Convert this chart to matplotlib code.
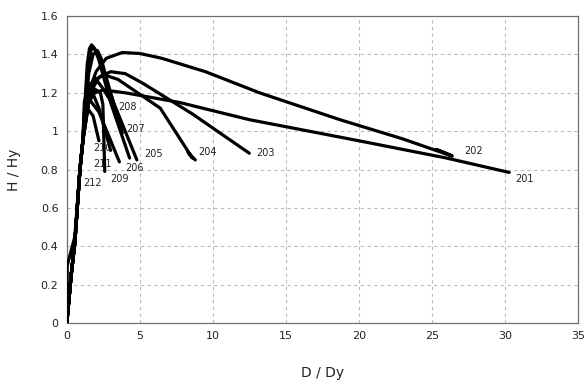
import numpy as np
import matplotlib
matplotlib.use("Agg")
import matplotlib.pyplot as plt

# ------ envelope curves (D/Dy, H/Hy) ---------------------------
rise = [(0, 0), (0.3, 0.25), (0.55, 0.42), (0.9, 0.8), (1.1, 0.95)]
rise0 = [(0, 0), (0.03, 0.3), (0.55, 0.45), (0.9, 0.8), (1.1, 0.95)]

curves = {
    "201": rise0 + [(1.5, 1.15), (1.9, 1.2), (2.5, 1.215), (4.0, 1.2), (7.7, 1.15),
                    (12.5, 1.06), (20.0, 0.95), (26.0, 0.86), (30.3, 0.785)],
    "202": rise + [(1.5, 1.2), (2.0, 1.31), (2.7, 1.38), (3.8, 1.41), (5.0, 1.405),
                   (6.5, 1.38), (9.5, 1.31), (13.2, 1.2), (18.7, 1.06), (23.0, 0.96),
                   (26.4, 0.87), (25.3, 0.905), (26.3, 0.875)],
    "203": rise + [(1.6, 1.2), (2.2, 1.28), (3.0, 1.31), (4.0, 1.3), (5.2, 1.25),
                   (8.6, 1.09), (12.5, 0.885)],
    "204": rise + [(1.6, 1.2), (2.0, 1.27), (2.5, 1.295), (3.5, 1.27), (6.4, 1.12),
                   (8.6, 0.86), (8.3, 0.89), (8.8, 0.85)],
    "205": rise + [(1.4, 1.3), (1.65, 1.42), (1.8, 1.44), (2.0, 1.42), (2.3, 1.36),
                   (3.2, 1.15), (4.8, 0.85)],
    "206": rise + [(1.4, 1.35), (1.55, 1.43), (1.7, 1.45), (1.9, 1.43), (2.2, 1.37),
                   (3.0, 1.15), (4.3, 0.86)],
    "207": rise + [(1.5, 1.3), (1.8, 1.4), (2.1, 1.42), (2.35, 1.38), (2.7, 1.28),
                   (3.8, 0.99)],
    "208": rise + [(1.5, 1.22), (1.9, 1.28), (2.5, 1.22), (3.3, 1.12)],
    "209": rise + [(1.4, 1.15), (1.9, 1.22), (2.3, 1.2), (2.47, 1.14), (2.6, 0.79)],
    "210": rise + [(1.2, 1.1), (1.5, 1.17), (2.2, 1.1), (3.6, 0.84)],
    "211": rise + [(1.2, 1.15), (1.5, 1.25), (2.2, 1.12), (3.0, 0.9)],
    "212": rise + [(1.3, 1.13), (1.8, 1.08), (2.2, 0.95)],
}

# label positions (left edge, centre) in data coords
label_pos = {
    "201": (30.7, 0.75), "202": (27.2, 0.895), "203": (13.0, 0.885),
    "204": (9.0, 0.89), "205": (5.3, 0.88), "206": (4.0, 0.81),
    "207": (4.1, 1.01), "208": (3.55, 1.125), "209": (3.0, 0.75),
    "210": (1.8, 0.91), "211": (1.8, 0.83), "212": (1.15, 0.73),
}

xticks = [0, 5, 10, 15, 20, 25, 30, 35]
yticks = [0, 0.2, 0.4, 0.6, 0.8, 1.0, 1.2, 1.4, 1.6]
yticklabels = ["0", "0.2", "0.4", "0.6", "0.8", "1", "1.2", "1.4", "1.6"]

fig = plt.figure(figsize=(5.86, 3.92), dpi=100)
ax = fig.add_axes([0.114, 0.176, 0.872, 0.783])

for name, pts in curves.items():
    pts = np.array(pts)
    ax.plot(pts[:, 0], pts[:, 1], color="black", lw=2.3, solid_joinstyle="round",
            solid_capstyle="round", zorder=3)
    lx, ly = label_pos[name]
    ax.text(lx, ly, name, fontsize=7, color="#222222", va="center", ha="left", zorder=4)

ax.set_xlim(0, 35)
ax.set_ylim(0, 1.6)
ax.set_xticks(xticks)
ax.set_yticks(yticks)
ax.set_yticklabels(yticklabels)
ax.tick_params(length=0, labelsize=8, colors="#222222", pad=6)
ax.grid(True, ls=(0, (3, 3)), color="#bbbbbb", lw=0.8)
ax.set_axisbelow(True)
for s in ax.spines.values():
    s.set_color("#707070")
    s.set_linewidth(0.9)

ax.set_xlabel("D / Dy", fontsize=10, color="#222222", labelpad=18)
ax.set_ylabel("H / Hy", fontsize=10, color="#222222", labelpad=14)

fig.savefig("out.png", dpi=100)
